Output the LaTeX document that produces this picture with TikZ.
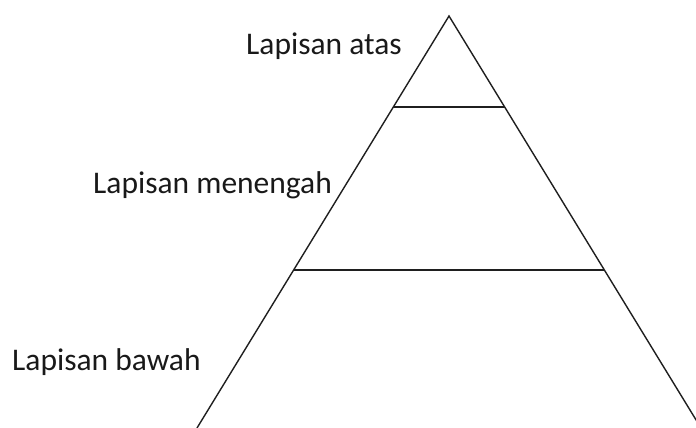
\documentclass[tikz,border=0pt]{standalone}
\usepackage{fontspec}
\setmainfont{Carlito}
\begin{document}
\begin{tikzpicture}[x=1pt,y=-1pt,
  edge/.style={line width=1.4pt,color=black!88},
  label/.style={anchor=base west,inner sep=0pt,font=\fontsize{31.5}{38}\selectfont,text=black!90}]
\useasboundingbox (0,0) rectangle (696,428);
\clip (0,0) rectangle (696,428);
\coordinate (apex) at (449,16);
\coordinate (bl) at (197,428);
\coordinate (br) at (701,428);
\coordinate (u1) at (393.3,107);
\coordinate (u2) at (504.7,107);
\coordinate (m1) at (293.6,270);
\coordinate (m2) at (604.4,270);
\draw[edge,line join=miter] (bl) -- (apex) -- (br);
\draw[edge] (u1) -- (u2);
\draw[edge] (m1) -- (m2);
\node[label] (atas) at (246,55) {Lapisan atas};
\node[label] (tengah) at (93,193) {Lapisan menengah};
\node[label] (bawah) at (12,370) {Lapisan bawah};
\end{tikzpicture}
\end{document}
